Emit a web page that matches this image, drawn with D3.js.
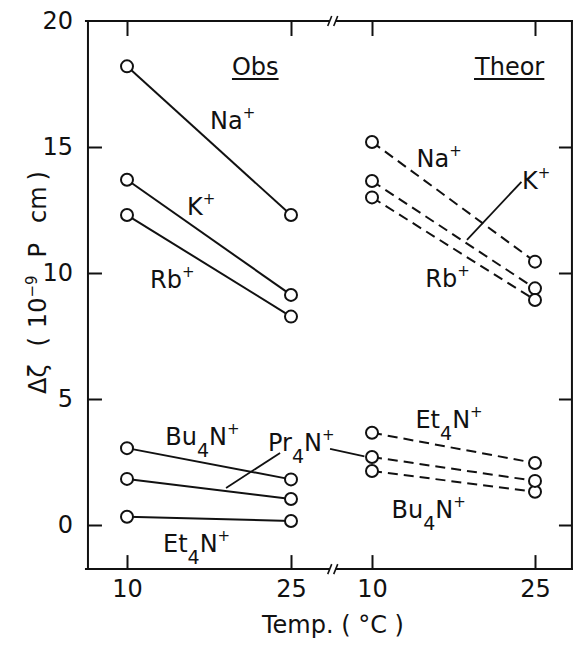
<!DOCTYPE html>
<html>
<head>
<meta charset="utf-8">
<script src="https://cdn.jsdelivr.net/npm/d3@7"></script>
<style>
  html, body { margin: 0; padding: 0; background: #fff; }
  svg { display: block; }
  text { font-family: "DejaVu Sans", sans-serif; fill: #111; }
</style>
</head>
<body>
<script>
// ---------------- data ----------------
const temps = [10, 25];                       // °C, both panels
const yTicks = [0, 5, 10, 15, 20];
const ions = ["Na+", "K+", "Rb+", "Bu4N+", "Pr4N+", "Et4N+"];
const obs10   = [18.2, 13.7, 12.3, 3.05, 1.83, 0.33];
const obs25   = [12.3, 9.13, 8.27, 1.81, 1.03, 0.16];
const theor10 = [15.2, 13.65, 13.0, 2.14, 2.70, 3.66];
const theor25 = [10.45, 9.39, 8.93, 1.32, 1.75, 2.46];

(function () {
// ---------------- layout ----------------
const W = 575, H = 646;
const svg = d3.select("body").append("svg").attr("width", W).attr("height", H);

const y  = d3.scaleLinear().domain([0, 20]).range([525, 21]);
const xL = d3.scaleLinear().domain([10, 25]).range([127, 291]);
const xR = d3.scaleLinear().domain([10, 25]).range([372, 535]);
const xLeft = xL(6.43), xRight = xR(28.4), yTop = y(20), yBottom = y(-1.75);
const brk = (xL(28.8) + xR(6.4)) / 2;

const ink = "#111";

// ---------------- axes (ticks) ----------------
function clean(g) { g.select(".domain").remove(); g.selectAll("line").attr("stroke", ink).attr("stroke-width", 2); }

svg.append("g").attr("transform", `translate(${xLeft},0)`)
  .call(d3.axisLeft(y).tickValues(yTicks).tickSize(-14).tickPadding(15).tickFormat(d3.format("d")))
  .call(clean)
  .call(g => g.selectAll(".tick").filter(d => d === 20).select("line").remove())
  .call(g => g.selectAll("text").attr("font-size", 24).attr("font-family", "DejaVu Sans").attr("fill", ink));

svg.append("g").attr("transform", `translate(${xRight},0)`)
  .call(d3.axisRight(y).tickValues([0, 5, 10, 15]).tickSize(-13).tickFormat(""))
  .call(clean);

[xL, xR].forEach(xs => {
  svg.append("g").attr("transform", `translate(0,${yBottom})`)
    .call(d3.axisBottom(xs).tickValues(temps).tickSize(-14).tickPadding(11).tickFormat(d3.format("d")))
    .call(clean)
    .call(g => g.selectAll("text").attr("font-size", 24).attr("font-family", "DejaVu Sans").attr("fill", ink));
  svg.append("g").attr("transform", `translate(0,${yTop})`)
    .call(d3.axisTop(xs).tickValues(temps).tickSize(-15).tickFormat(""))
    .call(clean);
});

// ---------------- frame with axis breaks ----------------
const frame = svg.append("g").attr("stroke", ink).attr("stroke-width", 2).attr("fill", "none");
frame.append("line").attr("x1", xLeft).attr("x2", xLeft).attr("y1", yTop - 1).attr("y2", yBottom + 1);
frame.append("line").attr("x1", xRight).attr("x2", xRight).attr("y1", yTop - 1).attr("y2", yBottom + 1);
[yTop, yBottom].forEach(yy => {
  frame.append("line").attr("x1", xLeft - 3).attr("x2", brk - 3).attr("y1", yy).attr("y2", yy);
  frame.append("line").attr("x1", brk + 3).attr("x2", xRight + 1).attr("y1", yy).attr("y2", yy);
  [-3, 3].forEach(o => frame.append("line")
    .attr("x1", brk + o - 2).attr("y1", yy + 5).attr("x2", brk + o + 2).attr("y2", yy - 5)
    .attr("stroke-width", 1.6));
});

// ---------------- series ----------------
function panel(xs, v10, v25, dashed) {
  const g = svg.append("g");
  ions.forEach((ion, i) => {
    g.append("line")
      .attr("x1", xs(temps[0])).attr("y1", y(v10[i]))
      .attr("x2", xs(temps[1])).attr("y2", y(v25[i]))
      .attr("stroke", ink).attr("stroke-width", 2)
      .attr("stroke-dasharray", dashed ? "10,6" : null);
  });
  ions.forEach((ion, i) => {
    [[temps[0], v10[i]], [temps[1], v25[i]]].forEach(([t, v]) => {
      g.append("circle").attr("cx", xs(t)).attr("cy", y(v)).attr("r", 6)
        .attr("fill", "#fff").attr("stroke", ink).attr("stroke-width", 2);
    });
  });
}
panel(xL, obs10, obs25, false);
panel(xR, theor10, theor25, true);

// ---------------- labels ----------------
// spec: "_c" = subscript char, "^c" = superscript char
function label(x, yy, spec, size = 24) {
  const t = svg.append("text").attr("x", x).attr("y", yy).attr("font-size", size).attr("fill", ink);
  const parts = [];
  let i = 0;
  while (i < spec.length) {
    const c = spec[i];
    if (c === "_" || c === "^") { parts.push({ kind: c, s: spec[i + 1] }); i += 2; }
    else {
      let s = "";
      while (i < spec.length && spec[i] !== "_" && spec[i] !== "^") { s += spec[i]; i++; }
      parts.push({ kind: "n", s });
    }
  }
  let shift = 0;
  parts.forEach(p => {
    const target = p.kind === "_" ? 12 : p.kind === "^" ? -11 : 0;
    const ts = t.append("tspan").text(p.s);
    if (target - shift !== 0) ts.attr("dy", target - shift);
    if (p.kind === "_") ts.attr("font-size", 19);
    if (p.kind === "^") ts.attr("font-size", 15);
    shift = target;
  });
  return t;
}

// panel titles
[["Obs", xL, 19.6], ["Theor", xR, 19.48]].forEach(([s, xs, t]) => {
  const tx = label(xs(t), y(17.86), s, 24);
  const bb = tx.node().getBBox();
  svg.append("line").attr("x1", bb.x).attr("x2", bb.x + bb.width).attr("y1", y(17.7)).attr("y2", y(17.7))
    .attr("stroke", ink).attr("stroke-width", 2);
});

// ion labels (data coordinates of each panel)
label(xL(17.6), y(15.71), "Na^+");
label(xL(15.49), y(12.3), "K^+");
label(xL(12.1), y(9.4), "Rb^+");
label(xL(13.5), y(3.17), "Bu_4N^+");
label(xL(22.9), y(2.94), "Pr_4N^+");
label(xL(13.29), y(-1.07), "Et_4N^+");

label(xR(14.1), y(14.2), "Na^+");
label(xR(23.8), y(13.33), "K^+");
label(xR(14.9), y(9.44), "Rb^+");
label(xR(14.0), y(3.85), "Et_4N^+");
label(xR(11.8), y(0.28), "Bu_4N^+");

// leader lines
const leaders = svg.append("g").attr("stroke", ink).attr("stroke-width", 1.8);
leaders.append("line").attr("x1", xL(24.0)).attr("y1", y(2.86)).attr("x2", xL(19.06)).attr("y2", y(1.47));
leaders.append("line").attr("x1", xR(6.14)).attr("y1", y(3.02)).attr("x2", xR(9.3)).attr("y2", y(2.72));
leaders.append("line").attr("x1", xR(23.75)).attr("y1", y(13.62)).attr("x2", xR(18.74)).attr("y2", y(11.31));

// axis titles
svg.append("text").attr("x", (xLeft + xRight) / 2 + 3).attr("y", 633).attr("text-anchor", "middle")
  .attr("font-size", 24).attr("fill", ink).style("white-space", "pre").text("Temp. ( °C )");

const yl = svg.append("text").attr("transform", `translate(46,394) rotate(-90)`)
  .attr("font-size", 24).attr("fill", ink);
yl.append("tspan").text("Δζ");
yl.append("tspan").attr("dx", 18).text("(");
yl.append("tspan").attr("dx", 9).text("10");
yl.append("tspan").attr("dy", -9).attr("font-size", 15).text("−9");
yl.append("tspan").attr("dy", 9).attr("dx", 18).text("P");
yl.append("tspan").attr("dx", 20).text("cm");
yl.append("tspan").attr("dx", 6).text(")");
})();
</script>
</body>
</html>
